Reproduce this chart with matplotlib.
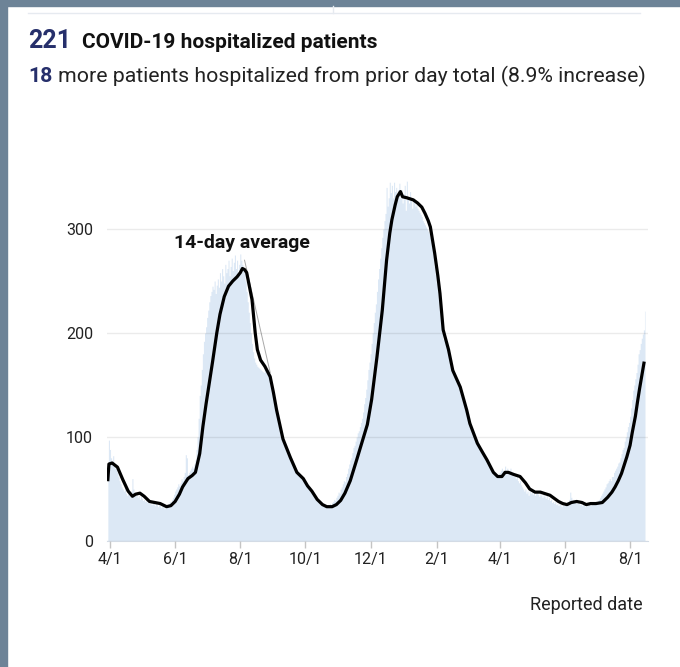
import pandas as pd
import matplotlib
matplotlib.use('Agg')
import matplotlib.pyplot as plt
from matplotlib.patches import Rectangle
from matplotlib.lines import Line2D

# headline numbers
current_total = 221
day_change = 18
pct_change = 8.9

# daily hospitalized patients, one row per week, first day 2020-03-30
daily_start = '2020-03-30'
daily_counts = [
    59, 97, 88, 80, 76, 82, 72,
    70, 74, 66, 62, 58, 55, 52,
    50, 48, 52, 46, 44, 47, 45,
    43, 48, 60, 50, 47, 44, 46,
    42, 44, 40, 43, 41, 39, 40,
    38, 41, 37, 39, 36, 38, 35,
    37, 36, 34, 38, 35, 33, 36,
    34, 32, 35, 33, 31, 34, 32,
    34, 36, 38, 37, 40, 42, 45,
    48, 50, 52, 55, 53, 56, 60,
    58, 62, 66, 83, 80, 64, 66,
    68, 70, 72, 70, 74, 78, 88,
    100, 118, 140, 150, 165, 180, 192,
    200, 206, 215, 222, 230, 236, 240,
    245, 242, 250, 238, 246, 252, 244,
    258, 250, 262, 255, 248, 266, 258,
    262, 270, 255, 264, 272, 260, 268,
    275, 262, 270, 258, 266, 276, 270,
    266, 262, 258, 250, 240, 230, 220,
    210, 200, 190, 182, 176, 172, 170,
    168, 167, 166, 165, 164, 163, 162,
    166, 164, 162, 161, 160, 158, 154,
    149, 143, 137, 131, 126, 121, 116,
    114, 108, 104, 100, 97, 94, 92,
    89, 86, 84, 82, 80, 77, 75,
    73, 70, 68, 67, 66, 64, 63,
    62, 61, 59, 57, 56, 54, 53,
    52, 50, 49, 47, 46, 44, 43,
    41, 40, 39, 38, 37, 36, 35,
    33, 34, 33, 35, 34, 36, 35,
    37, 38, 40, 39, 42, 44, 47,
    46, 50, 52, 55, 58, 57, 62,
    65, 70, 74, 78, 80, 85, 90,
    92, 96, 100, 104, 106, 110, 114,
    118, 124, 132, 138, 146, 155, 165,
    172, 180, 190, 200, 210, 220, 228,
    240, 252, 262, 272, 282, 292, 300,
    308, 315, 340, 322, 330, 345, 335,
    342, 330, 345, 336, 340, 332, 338,
    344, 330, 338, 325, 334, 342, 318,
    346, 330, 325, 336, 328, 320, 330,
    326, 322, 324, 320, 318, 316, 314,
    312, 308, 306, 304, 302, 300, 298,
    296, 292, 288, 282, 274, 264, 256,
    248, 240, 232, 222, 210, 200, 194,
    196, 192, 189, 187, 185, 180, 174,
    170, 166, 162, 160, 158, 156, 154,
    150, 148, 145, 141, 137, 133, 129,
    126, 122, 118, 114, 110, 107, 104,
    101, 98, 96, 94, 92, 90, 88,
    86, 85, 83, 81, 79, 77, 75,
    73, 71, 69, 67, 66, 65, 64,
    63, 63, 64, 66, 68, 70, 68,
    68, 72, 66, 70, 68, 66, 70,
    64, 66, 62, 64, 60, 62, 58,
    56, 58, 54, 52, 50, 48, 50,
    46, 48, 44, 50, 46, 48, 45,
    47, 44, 46, 48, 45, 43, 46,
    44, 42, 45, 43, 41, 44, 40,
    42, 39, 40, 37, 38, 36, 38,
    35, 36, 34, 37, 35, 33, 36,
    34, 37, 35, 38, 36, 40, 47,
    42, 38, 40, 37, 39, 36, 38,
    36, 35, 37, 34, 36, 35, 33,
    36, 34, 35, 37, 34, 36, 35,
    36, 35, 38, 37, 39, 40, 42,
    44, 46, 48, 50, 52, 55, 56,
    58, 60, 58, 62, 62, 66, 68,
    70, 72, 75, 76, 80, 84, 88,
    90, 96, 100, 105, 110, 114, 120,
    128, 136, 145, 150, 156, 162, 170,
    180, 184, 190, 195, 199, 203, 221,
]

# 14-day average (days after 2020-04-01)
avg_start = '2020-04-01'
avg_day = [-2, -1, 2, 7, 12, 17, 21, 24, 28, 32, 37, 42, 47, 53, 57, 61, 65, 68,
           73, 77, 80, 84, 87, 90, 96, 100, 103, 107, 111, 115, 119, 122, 124,
           126, 128, 133, 136, 138, 141, 145, 150, 153, 156, 162, 169, 175, 181,
           185, 189, 194, 199, 203, 208, 212, 216, 220, 225, 231, 236, 241, 245,
           250, 255, 259, 262, 264, 267, 269, 272, 274, 278, 284, 288, 292, 295,
           298, 300, 304, 307, 309, 312, 317, 321, 328, 334, 337, 344, 349, 353,
           359, 363, 367, 370, 373, 378, 384, 389, 393, 398, 403, 409, 412, 416,
           420, 424, 428, 432, 437, 442, 446, 450, 455, 461, 466, 470, 473, 476,
           479, 484, 487, 489, 492, 494, 496, 498, 500]
avg_value = [59, 74, 75, 71, 59, 48, 43, 45, 46, 43, 38, 37, 36, 33, 34, 38, 45, 52,
             60, 63, 66, 84, 110, 132, 172, 200, 218, 235, 245, 250, 254, 258, 262,
             261, 258, 232, 200, 184, 174, 168, 158, 143, 126, 98, 80, 66, 60,
             53, 48, 40, 35, 33, 33, 35, 39, 46, 58, 78, 95, 112, 136,
             177, 222, 270, 296, 309, 323, 331, 336, 331, 330, 328, 325, 321, 315,
             308, 302, 277, 255, 238, 203, 184, 164, 148, 126, 113, 94, 85, 78,
             66, 62, 62, 66, 66, 64, 62, 56, 50, 47, 47, 45, 44, 41,
             38, 36, 35, 37, 38, 37, 35, 36, 36, 37, 42, 47, 52, 58,
             65, 81, 92, 104, 120, 134, 147, 159, 171]

# thin grey segment visible on the first wave's descent
gap_day = [126, 150]
gap_value = [270, 162]

tick_dates = ['2020-04-01', '2020-06-01', '2020-08-01', '2020-10-01', '2020-12-01',
              '2021-02-01', '2021-04-01', '2021-06-01', '2021-08-01']
tick_labels = ['4/1', '6/1', '8/1', '10/1', '12/1', '2/1', '4/1', '6/1', '8/1']
y_ticks = [0, 100, 200, 300]

W, H = 680, 667
NAVY = '#262f6b'
plt.rcParams['font.family'] = ['Roboto', 'DejaVu Sans']

fig = plt.figure(figsize=(W / 100, H / 100), dpi=100)
fig.patch.set_facecolor('white')

# slate frame on the left and top, plus the edge of the card above
fig.add_artist(Rectangle((0, 0), 7 / W, 1, transform=fig.transFigure,
                         color='#6d8397', zorder=0))
fig.add_artist(Rectangle((0, 1 - 6 / H), 1, 6 / H, transform=fig.transFigure,
                         color='#6d8397', zorder=0))
fig.add_artist(Line2D([28 / W, 640 / W], [1 - 13 / H] * 2, color='#e6eaf0', lw=1))
fig.add_artist(Line2D([333 / W] * 2, [1 - 6 / H, 1 - 13 / H], color='#e6eaf0', lw=1))

ax = fig.add_axes([107 / W, 1 - 541 / H, 541 / W, 364 / H])
dates = pd.date_range(daily_start, periods=len(daily_counts), freq='D')
ax.fill_between(dates, daily_counts, step='mid', color='#dce8f5', linewidth=0, zorder=1)

start = pd.Timestamp(avg_start)
avg_dates = start + pd.to_timedelta(avg_day, unit='D')
ax.plot(avg_dates, avg_value, color='black', lw=2.3, solid_joinstyle='round', zorder=3)
gap_dates = start + pd.to_timedelta(gap_day, unit='D')
ax.plot(gap_dates, gap_value, color='#a8a8a8', lw=0.7, zorder=2)

ax.set_xlim(start - pd.Timedelta(days=2.8), start + pd.Timedelta(days=503.8))
ax.set_ylim(0, 350)
ax.set_yticks(y_ticks)
ax.set_xticks(pd.to_datetime(tick_dates))
ax.set_xticklabels(tick_labels)
ax.grid(axis='y', color='black', alpha=0.08, lw=1)
ax.grid(axis='x', visible=False)
ax.set_axisbelow(False)
for side in ['top', 'right', 'left']:
    ax.spines[side].set_visible(False)
ax.spines['bottom'].set_color('#d3dbe5')
ax.tick_params(axis='x', length=5, width=1, color='#c4c4c4', pad=3,
               labelsize=11.5, labelcolor='#222222')
ax.tick_params(axis='y', length=0, pad=10, labelsize=11.5, labelcolor='#222222')

# label over the first peak of the average line
ax.text(start + pd.Timedelta(days=124), 287, '14-day average', ha='center',
        va='center', fontsize=14, weight='bold', color='#111111')

# headline and sub-headline, each made of two pieces
t1 = fig.text(28 / W, 1 - 48 / H, str(current_total), fontsize=18, color=NAVY,
              weight='bold', va='baseline')
t3 = fig.text(28 / W, 1 - 82 / H, str(day_change), fontsize=15.3, color=NAVY,
              weight='bold', va='baseline')
fig.canvas.draw()
b1 = t1.get_window_extent()
b3 = t3.get_window_extent()
fig.text(b1.x1 / W + 11 / W, 1 - 48 / H, 'COVID-19 hospitalized patients',
         fontsize=15, weight='bold', color='#111111', va='baseline')
fig.text(b3.x1 / W + 6 / W, 1 - 82 / H,
         'more patients hospitalized from prior day total (%.1f%% increase)' % pct_change,
         fontsize=15.3, color='#222222', va='baseline')

fig.text(643 / W, 1 - 605 / H, 'Reported date', ha='right', va='center',
         fontsize=13, color='#222222')

fig.savefig('out.png', dpi=100)
